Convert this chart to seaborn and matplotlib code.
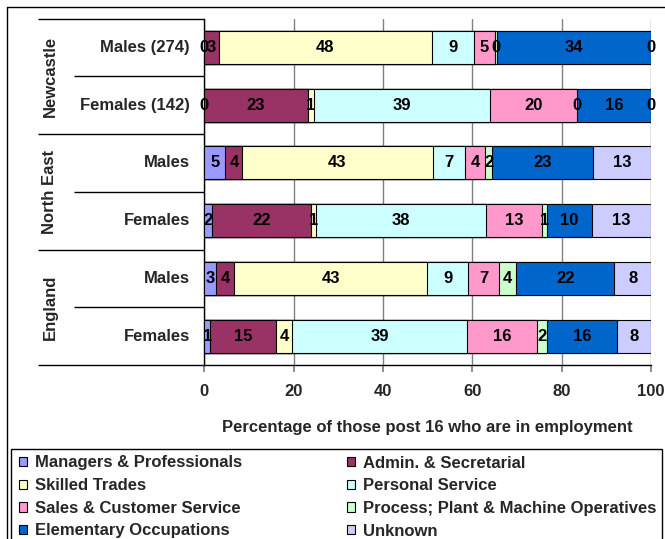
import numpy as np
import pandas as pd
import matplotlib
matplotlib.use("Agg")
import matplotlib.pyplot as plt
import matplotlib.transforms as mtransforms
from matplotlib.patches import Patch, Rectangle
from matplotlib.lines import Line2D
from matplotlib.collections import LineCollection
import seaborn as sns

# rows, top to bottom
areas = ["Newcastle", "North East", "England"]
rows = ["Males (274)", "Females (142)", "Males", "Females", "Males", "Females"]
row_area = ["Newcastle", "Newcastle", "North East", "North East", "England", "England"]

occupations = ["Managers & Professionals", "Admin. & Secretarial", "Skilled Trades",
               "Personal Service", "Sales & Customer Service",
               "Process; Plant & Machine Operatives", "Elementary Occupations", "Unknown"]

managers = [0, 0, 4.7, 1.7, 2.7, 1.3]
admin = [3.2, 23.1, 3.8, 22.1, 3.9, 14.8]
skilled = [47.8, 1.4, 42.6, 1.3, 43.3, 3.6]
personal = [9.3, 39.4, 7.3, 38.0, 9.2, 39.2]
sales = [4.8, 19.6, 4.4, 12.6, 6.9, 15.6]
process = [0.4, 0, 1.7, 1.0, 3.8, 2.2]
elementary = [34.4, 16.4, 22.6, 10.1, 22.0, 15.6]
unknown = [0, 0, 12.9, 13.2, 8.2, 7.7]

colors = ["#9999FF", "#993366", "#FFFFCC", "#CCFFFF",
          "#FF99CC", "#CCFFCC", "#0066CC", "#CCCCFF"]

sns.set_theme(style="white")
plt.rcParams["font.family"] = ["Liberation Sans", "DejaVu Sans"]
plt.rcParams["font.weight"] = "bold"
FS = 12

series = [managers, admin, skilled, personal, sales, process, elementary, unknown]
keys = [f"{a}|{r}" for a, r in zip(row_area, rows)]
vals = pd.DataFrame(np.array(series).T, columns=occupations, index=keys)
cum = vals.cumsum(axis=1)
df = cum.reset_index().rename(columns={"index": "key"})

fig = plt.figure(figsize=(6.65, 5.39), dpi=100)
ax = fig.add_axes([204.4 / 665, 1 - 365 / 539, (651 - 204.4) / 665, (365 - 18.5) / 539])

# stacked bars: draw cumulative totals from the last series back to the first
for occ, col in zip(occupations[::-1], colors[::-1]):
    sns.barplot(data=df, x=occ, y="key", order=keys, color=col, saturation=1,
                edgecolor="black", linewidth=0.8, width=0.57, errorbar=None,
                orient="h", ax=ax, zorder=3)

# value labels in the middle of each segment
for i, k in enumerate(keys):
    for occ in occupations:
        v = vals.loc[k, occ]
        c = cum.loc[k, occ]
        ax.text(c - v / 2, i, f"{v:.0f}", ha="center", va="center",
                fontsize=FS, fontweight="bold", color="black", zorder=5)

ax.set_xlim(0, 100)
ax.set_ylim(len(keys) - 0.5, -0.5)
ax.set_xticks([0, 20, 40, 60, 80, 100])
ax.set_yticks([])
ax.set_ylabel("")
ax.xaxis.grid(True, color="#808080", linewidth=1, zorder=0)
ax.set_axisbelow(True)
ax.tick_params(axis="x", bottom=True, length=5, color="#808080", pad=9, labelsize=FS)
for lab in ax.get_xticklabels():
    lab.set_fontweight("bold")
ax.set_xlabel("Percentage of those post 16 who are in employment",
              fontsize=FS, fontweight="bold", labelpad=15)
for s in ["top", "right"]:
    ax.spines[s].set_visible(False)
for s in ["left", "bottom"]:
    ax.spines[s].set_color("black")
    ax.spines[s].set_linewidth(1)

# two-level category axis on the left
tr = mtransforms.blended_transform_factory(ax.transAxes, ax.transData)
x_long = (38 - 204.4) / 446.6
x_short = (74 - 204.4) / 446.6
x_lab = (190 - 204.4) / 446.6
x_area = (50 - 204.4) / 446.6
for i, r in enumerate(rows):
    ax.text(x_lab, i, r, transform=tr, ha="right", va="center",
            fontsize=FS, fontweight="bold", clip_on=False)
segs = []
for b in np.arange(len(rows) + 1) - 0.5:
    x0 = x_long if int(b + 0.5) % 2 == 0 else x_short
    segs.append([(x0, b), (0, b)])
ax.add_collection(LineCollection(segs, transform=tr, colors="black",
                                 linewidths=1, clip_on=False), autolim=False)
for j, a in enumerate(areas):
    ax.text(x_area, 2 * j + 0.5, a, transform=tr, ha="center", va="center",
            rotation=90, fontsize=FS, fontweight="bold", clip_on=False)

# chart frame (top and left edges visible)
fig.add_artist(Line2D([7 / 665, 1], [1 - 7 / 539] * 2, color="black", linewidth=1))
fig.add_artist(Line2D([7 / 665] * 2, [0, 1 - 7 / 539], color="black", linewidth=1))

# legend box
fig.add_artist(Rectangle((10.7 / 665, -0.05), (661.7 - 10.7) / 665, 0.05 + 1 - 449 / 539,
                         transform=fig.transFigure, facecolor="white",
                         edgecolor="black", linewidth=1))
handles = [Patch(facecolor=c, edgecolor="black", linewidth=0.8) for c in colors]
order = [0, 2, 4, 6, 1, 3, 5, 7]
fig.legend([handles[i] for i in order], [occupations[i] for i in order],
           loc="upper left", bbox_to_anchor=(19 / 665, 1 - 455.5 / 539), ncol=2,
           frameon=False, prop={"weight": "bold", "size": FS},
           handlelength=0.5, handleheight=0.5, handletextpad=0.45,
           labelspacing=0.46, columnspacing=6.3, borderaxespad=0, borderpad=0)

fig.savefig("out.png", dpi=100)
